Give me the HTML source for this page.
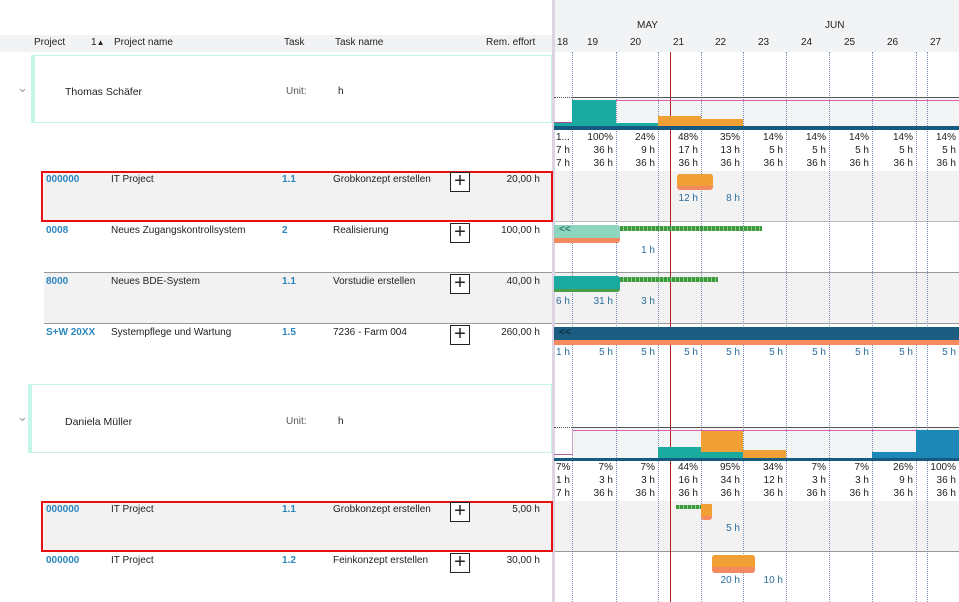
<!DOCTYPE html>
<html><head><meta charset="utf-8"><style>
*{margin:0;padding:0;box-sizing:border-box}
body{width:959px;height:602px;overflow:hidden;background:#fff;font-family:"Liberation Sans",sans-serif;font-size:10px;color:#222;position:relative}
.a{position:absolute;white-space:nowrap}
.r{position:absolute;text-align:right;white-space:nowrap}
.b{color:#2a86bd;font-weight:bold}
.plus{position:absolute;width:20px;height:20px;border:1px solid #222;background:#fff;font-size:20px;line-height:16px;text-align:center;font-weight:normal}
.vl{position:absolute;top:52px;height:550px;width:0;border-left:1px dotted #7a8db5}
.hl{position:absolute;left:0;width:959px;height:1px;background:#bbb}
.lbl{color:#2b6c99}
</style></head><body>
<!-- header -->
<div class="a" style="left:0;top:35px;width:552px;height:17px;background:#f2f3f5"></div>
<div class="a" style="left:552px;top:0;width:407px;height:52px;background:#f2f3f5"></div>
<div class="a" style="left:34px;top:37px">Project</div>
<div class="a" style="left:91px;top:37px">1<span style="font-size:8px">▲</span></div>
<div class="a" style="left:114px;top:37px">Project name</div>
<div class="a" style="left:284px;top:37px">Task</div>
<div class="a" style="left:335px;top:37px">Task name</div>
<div class="a" style="left:486px;top:37px">Rem. effort</div>
<div class="a" style="left:637px;top:20px">MAY</div>
<div class="a" style="left:825px;top:20px">JUN</div>
<div class="a" style="top:37px;left:557px">18</div><div class="a" style="top:37px;left:587px">19</div><div class="a" style="top:37px;left:630px">20</div><div class="a" style="top:37px;left:673px">21</div><div class="a" style="top:37px;left:715px">22</div><div class="a" style="top:37px;left:758px">23</div><div class="a" style="top:37px;left:801px">24</div><div class="a" style="top:37px;left:844px">25</div><div class="a" style="top:37px;left:887px">26</div><div class="a" style="top:37px;left:930px">27</div>

<!-- row backgrounds -->
<div class="a" style="left:44px;top:171px;width:915px;height:51px;background:#f2f2f2"></div>
<div class="a" style="left:44px;top:273px;width:915px;height:51px;background:#f2f2f2"></div>
<div class="a" style="left:44px;top:501px;width:915px;height:51px;background:#f2f2f2"></div>
<div class="a" style="left:572px;top:97px;width:387px;height:30px;background:#f3f4f6"></div>
<div class="a" style="left:572px;top:428px;width:387px;height:30px;background:#f3f4f6"></div>
<div class="hl" style="left:44px;top:221px;width:915px"></div>
<div class="hl" style="left:44px;top:272px;width:915px;background:#999"></div>
<div class="hl" style="left:44px;top:323px;width:915px;background:#999"></div>
<div class="hl" style="left:44px;top:551px;width:915px;background:#999"></div>

<!-- grid lines -->
<div class="vl" style="left:572px"></div><div class="vl" style="left:616px"></div><div class="vl" style="left:658px"></div><div class="vl" style="left:701px"></div><div class="vl" style="left:743px"></div><div class="vl" style="left:786px"></div><div class="vl" style="left:829px"></div><div class="vl" style="left:872px"></div><div class="vl" style="left:916px"></div><div class="vl" style="left:927px"></div>
<div class="a" style="left:670px;top:52px;width:1px;height:550px;background:#b02020"></div>

<!-- divider -->
<div class="a" style="left:552px;top:0;width:3px;height:602px;background:#dcd3e3"></div>

<!-- group 1 -->
<div class="a" style="left:31px;top:55px;width:521px;height:68px;border:1px solid #c4f5e8;border-left:4px solid #c4f5e8"></div>
<div class="a" style="left:17px;top:80px;color:#999;font-size:13px">⌄</div>
<div class="a" style="left:65px;top:86px;font-size:10.5px">Thomas Schäfer</div>
<div class="a" style="left:286px;top:86px;color:#555">Unit:</div>
<div class="a" style="left:338px;top:86px">h</div>

<!-- group 1 chart -->
<div class="a" style="left:554px;top:97px;width:18px;border-top:1px dotted #555"></div>
<div class="a" style="left:572px;top:97px;width:387px;height:1px;background:#555"></div>
<div class="a" style="left:572px;top:100px;width:387px;height:1px;background:#e060b0"></div>
<div class="a" style="left:572px;top:100px;width:44px;height:26px;background:#1aaa9f"></div>
<div class="a" style="left:616px;top:123px;width:42px;height:3px;background:#1aaa9f"></div>
<div class="a" style="left:658px;top:116px;width:43px;height:10px;background:#f0a035"></div>
<div class="a" style="left:701px;top:119px;width:42px;height:7px;background:#f0a035"></div>
<div class="a" style="left:554px;top:123px;width:18px;height:3px;background:#1aaa9f"></div>
<div class="a" style="left:554px;top:122px;width:18px;height:1px;background:#a05090"></div>
<div class="a" style="left:554px;top:126px;width:405px;height:4px;background:#165a80"></div>

<!-- stats 1 -->
<div class="a" style="left:556px;top:132px">1...</div>
<div class="r" style="left:572px;width:41px;top:132px">100%</div><div class="r" style="left:616px;width:39px;top:132px">24%</div><div class="r" style="left:658px;width:40px;top:132px">48%</div><div class="r" style="left:701px;width:39px;top:132px">35%</div><div class="r" style="left:743px;width:40px;top:132px">14%</div><div class="r" style="left:786px;width:40px;top:132px">14%</div><div class="r" style="left:829px;width:40px;top:132px">14%</div><div class="r" style="left:872px;width:41px;top:132px">14%</div><div class="r" style="left:916px;width:40px;top:132px">14%</div>
<div class="a" style="left:556px;top:145px">7 h</div>
<div class="r" style="left:572px;width:41px;top:145px">36 h</div><div class="r" style="left:616px;width:39px;top:145px">9 h</div><div class="r" style="left:658px;width:40px;top:145px">17 h</div><div class="r" style="left:701px;width:39px;top:145px">13 h</div><div class="r" style="left:743px;width:40px;top:145px">5 h</div><div class="r" style="left:786px;width:40px;top:145px">5 h</div><div class="r" style="left:829px;width:40px;top:145px">5 h</div><div class="r" style="left:872px;width:41px;top:145px">5 h</div><div class="r" style="left:916px;width:40px;top:145px">5 h</div>
<div class="a" style="left:556px;top:158px">7 h</div>
<div class="r" style="left:572px;width:41px;top:158px">36 h</div><div class="r" style="left:616px;width:39px;top:158px">36 h</div><div class="r" style="left:658px;width:40px;top:158px">36 h</div><div class="r" style="left:701px;width:39px;top:158px">36 h</div><div class="r" style="left:743px;width:40px;top:158px">36 h</div><div class="r" style="left:786px;width:40px;top:158px">36 h</div><div class="r" style="left:829px;width:40px;top:158px">36 h</div><div class="r" style="left:872px;width:41px;top:158px">36 h</div><div class="r" style="left:916px;width:40px;top:158px">36 h</div>

<!-- row 1 -->
<div class="a" style="left:41px;top:171px;width:512px;height:51px;border:2px solid #e81010"></div>
<div class="a b" style="left:46px;top:174px">000000</div>
<div class="a" style="left:111px;top:174px">IT Project</div>
<div class="a b" style="left:282px;top:174px">1.1</div>
<div class="a" style="left:333px;top:174px">Grobkonzept erstellen</div>
<div class="plus" style="left:450px;top:172px">+</div>
<div class="r" style="left:480px;width:60px;top:174px">20,00 h</div>
<div class="a" style="left:677px;top:174px;width:36px;height:16px;background:#f58a60;border-radius:3px"></div>
<div class="a" style="left:677px;top:174px;width:36px;height:12px;background:#f0a035;border-radius:3px 3px 0 0"></div>
<div class="r lbl" style="left:658px;width:40px;top:193px">12 h</div>
<div class="r lbl" style="left:701px;width:39px;top:193px">8 h</div>

<!-- row 2 -->
<div class="a b" style="left:46px;top:225px">0008</div>
<div class="a" style="left:111px;top:225px">Neues Zugangskontrollsystem</div>
<div class="a b" style="left:282px;top:225px">2</div>
<div class="a" style="left:333px;top:225px">Realisierung</div>
<div class="plus" style="left:450px;top:223px">+</div>
<div class="r" style="left:480px;width:60px;top:225px">100,00 h</div>
<div class="a" style="left:554px;top:225px;width:66px;height:18px;background:#f58a60;border-radius:0 3px 3px 0"></div>
<div class="a" style="left:554px;top:225px;width:66px;height:13px;background:#8dd5bf;border-radius:0 3px 0 0"></div>
<div class="a" style="left:559px;top:224px;color:#3a7a70;font-weight:bold;font-size:10px">&lt;&lt;</div>
<div class="a" style="left:620px;top:226px;width:142px;height:5px;background:repeating-linear-gradient(90deg,#3c9a3c 0 3px,#8fcc8f 3px 4px)"></div>
<div class="r lbl" style="left:616px;width:39px;top:245px">1 h</div>

<!-- row 3 -->
<div class="a b" style="left:46px;top:276px">8000</div>
<div class="a" style="left:111px;top:276px">Neues BDE-System</div>
<div class="a b" style="left:282px;top:276px">1.1</div>
<div class="a" style="left:333px;top:276px">Vorstudie erstellen</div>
<div class="plus" style="left:450px;top:274px">+</div>
<div class="r" style="left:480px;width:60px;top:276px">40,00 h</div>
<div class="a" style="left:554px;top:276px;width:66px;height:16px;background:#4a9e45;border-radius:0 3px 3px 0"></div>
<div class="a" style="left:554px;top:276px;width:66px;height:13px;background:#1aaa9f;border-radius:0 3px 0 0"></div>
<div class="a" style="left:620px;top:277px;width:98px;height:5px;background:repeating-linear-gradient(90deg,#3c9a3c 0 3px,#8fcc8f 3px 4px)"></div>
<div class="a lbl" style="left:556px;top:296px">6 h</div>
<div class="r lbl" style="left:572px;width:41px;top:296px">31 h</div>
<div class="r lbl" style="left:616px;width:39px;top:296px">3 h</div>

<!-- row 4 -->
<div class="a b" style="left:46px;top:327px">S+W 20XX</div>
<div class="a" style="left:111px;top:327px">Systempflege und Wartung</div>
<div class="a b" style="left:282px;top:327px">1.5</div>
<div class="a" style="left:333px;top:327px">7236 - Farm 004</div>
<div class="plus" style="left:450px;top:325px">+</div>
<div class="r" style="left:480px;width:60px;top:327px">260,00 h</div>
<div class="a" style="left:554px;top:327px;width:405px;height:18px;background:#f58a60"></div>
<div class="a" style="left:554px;top:327px;width:405px;height:13px;background:#1b5e82"></div>
<div class="a" style="left:559px;top:327px;color:#0c2a40;font-weight:bold">&lt;&lt;</div>
<div class="a lbl" style="left:556px;top:347px">1 h</div>
<div class="r lbl" style="left:572px;width:41px;top:347px">5 h</div><div class="r lbl" style="left:616px;width:39px;top:347px">5 h</div><div class="r lbl" style="left:658px;width:40px;top:347px">5 h</div><div class="r lbl" style="left:701px;width:39px;top:347px">5 h</div><div class="r lbl" style="left:743px;width:40px;top:347px">5 h</div><div class="r lbl" style="left:786px;width:40px;top:347px">5 h</div><div class="r lbl" style="left:829px;width:40px;top:347px">5 h</div><div class="r lbl" style="left:872px;width:41px;top:347px">5 h</div><div class="r lbl" style="left:916px;width:40px;top:347px">5 h</div>

<!-- group 2 -->
<div class="a" style="left:28px;top:384px;width:524px;height:69px;border:1px solid #c4f5e8;border-left:4px solid #c4f5e8"></div>
<div class="a" style="left:17px;top:409px;color:#999;font-size:13px">⌄</div>
<div class="a" style="left:65px;top:416px;font-size:10.5px">Daniela Müller</div>
<div class="a" style="left:286px;top:416px;color:#555">Unit:</div>
<div class="a" style="left:338px;top:416px">h</div>

<div class="a" style="left:554px;top:427px;width:18px;border-top:1px dotted #555"></div>
<div class="a" style="left:572px;top:427px;width:387px;height:1px;background:#555"></div>
<div class="a" style="left:572px;top:430px;width:387px;height:1px;background:#e060b0"></div>
<div class="a" style="left:554px;top:454px;width:18px;height:1px;background:#b060a0"></div>
<div class="a" style="left:572px;top:430px;width:1px;height:25px;background:#d0a0c8"></div>
<div class="a" style="left:658px;top:447px;width:43px;height:11px;background:#1aaa9f"></div>
<div class="a" style="left:701px;top:431px;width:42px;height:21px;background:#f0a035"></div>
<div class="a" style="left:701px;top:452px;width:42px;height:6px;background:#1aaa9f"></div>
<div class="a" style="left:743px;top:450px;width:43px;height:8px;background:#f0a035"></div>
<div class="a" style="left:872px;top:452px;width:44px;height:6px;background:#1b88b8"></div>
<div class="a" style="left:916px;top:430px;width:43px;height:28px;background:#1b88b8"></div>
<div class="a" style="left:554px;top:458px;width:405px;height:3px;background:#165a80"></div>

<div class="a" style="left:556px;top:462px">7%</div>
<div class="r" style="left:572px;width:41px;top:462px">7%</div><div class="r" style="left:616px;width:39px;top:462px">7%</div><div class="r" style="left:658px;width:40px;top:462px">44%</div><div class="r" style="left:701px;width:39px;top:462px">95%</div><div class="r" style="left:743px;width:40px;top:462px">34%</div><div class="r" style="left:786px;width:40px;top:462px">7%</div><div class="r" style="left:829px;width:40px;top:462px">7%</div><div class="r" style="left:872px;width:41px;top:462px">26%</div><div class="r" style="left:916px;width:40px;top:462px">100%</div>
<div class="a" style="left:556px;top:475px">1 h</div>
<div class="r" style="left:572px;width:41px;top:475px">3 h</div><div class="r" style="left:616px;width:39px;top:475px">3 h</div><div class="r" style="left:658px;width:40px;top:475px">16 h</div><div class="r" style="left:701px;width:39px;top:475px">34 h</div><div class="r" style="left:743px;width:40px;top:475px">12 h</div><div class="r" style="left:786px;width:40px;top:475px">3 h</div><div class="r" style="left:829px;width:40px;top:475px">3 h</div><div class="r" style="left:872px;width:41px;top:475px">9 h</div><div class="r" style="left:916px;width:40px;top:475px">36 h</div>
<div class="a" style="left:556px;top:488px">7 h</div>
<div class="r" style="left:572px;width:41px;top:488px">36 h</div><div class="r" style="left:616px;width:39px;top:488px">36 h</div><div class="r" style="left:658px;width:40px;top:488px">36 h</div><div class="r" style="left:701px;width:39px;top:488px">36 h</div><div class="r" style="left:743px;width:40px;top:488px">36 h</div><div class="r" style="left:786px;width:40px;top:488px">36 h</div><div class="r" style="left:829px;width:40px;top:488px">36 h</div><div class="r" style="left:872px;width:41px;top:488px">36 h</div><div class="r" style="left:916px;width:40px;top:488px">36 h</div>

<!-- row 5 -->
<div class="a" style="left:41px;top:501px;width:512px;height:51px;border:2px solid #e81010"></div>
<div class="a b" style="left:46px;top:504px">000000</div>
<div class="a" style="left:111px;top:504px">IT Project</div>
<div class="a b" style="left:282px;top:504px">1.1</div>
<div class="a" style="left:333px;top:504px">Grobkonzept erstellen</div>
<div class="plus" style="left:450px;top:502px">+</div>
<div class="r" style="left:480px;width:60px;top:504px">5,00 h</div>
<div class="a" style="left:676px;top:505px;width:26px;height:4px;background:repeating-linear-gradient(90deg,#3c9a3c 0 3px,#8fcc8f 3px 4px)"></div>
<div class="a" style="left:701px;top:504px;width:11px;height:16px;background:#f58a60;border-radius:0 3px 3px 3px"></div>
<div class="a" style="left:701px;top:504px;width:11px;height:12px;background:#f0a035"></div>
<div class="r lbl" style="left:701px;width:39px;top:523px">5 h</div>

<!-- row 6 -->
<div class="a b" style="left:46px;top:555px">000000</div>
<div class="a" style="left:111px;top:555px">IT Project</div>
<div class="a b" style="left:282px;top:555px">1.2</div>
<div class="a" style="left:333px;top:555px">Feinkonzept erstellen</div>
<div class="plus" style="left:450px;top:553px">+</div>
<div class="r" style="left:480px;width:60px;top:555px">30,00 h</div>
<div class="a" style="left:712px;top:555px;width:43px;height:18px;background:#f58a60;border-radius:3px"></div>
<div class="a" style="left:712px;top:555px;width:43px;height:12px;background:#f0a035;border-radius:3px 3px 0 0"></div>
<div class="r lbl" style="left:701px;width:39px;top:575px">20 h</div>
<div class="r lbl" style="left:743px;width:40px;top:575px">10 h</div>
</body></html>
